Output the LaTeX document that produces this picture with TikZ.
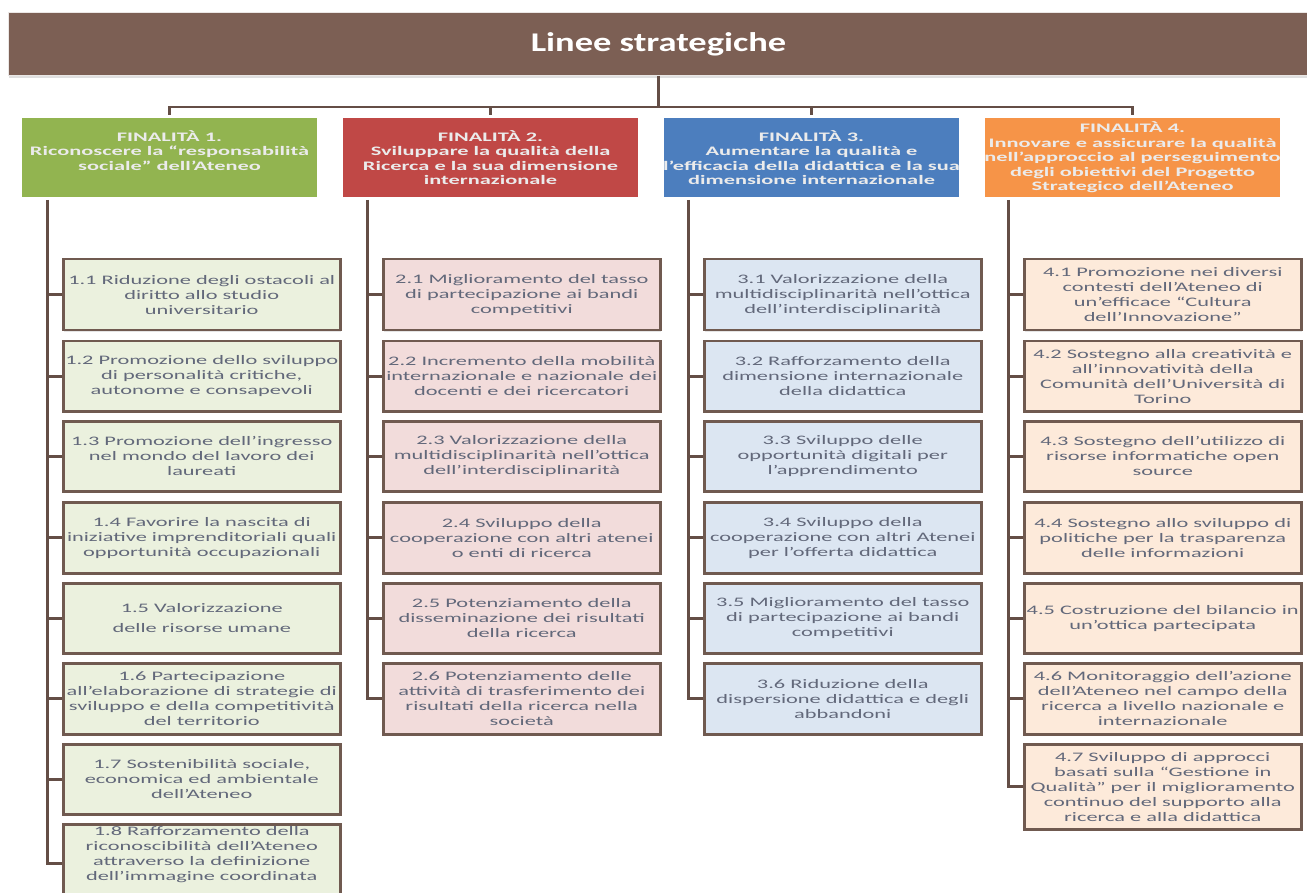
\documentclass[tikz,border=0pt]{standalone}
\usepackage{fontspec}
\setmainfont{Carlito}
\newfontfamily\subfont[FakeStretch=1.72]{Carlito}
\newfontfamily\titlefont[FakeStretch=1.72]{Carlito}
\newfontfamily\hdrfont[FakeStretch=1.35]{Carlito}
\usetikzlibrary{shadows,calc}
\definecolor{hdrc}{RGB}{124,95,84}
\definecolor{lnc}{RGB}{100,78,70}
\definecolor{bordc}{RGB}{112,90,80}
\definecolor{subtxt}{RGB}{98,104,122}
\definecolor{gF}{RGB}{146,180,80}
\definecolor{rF}{RGB}{192,72,70}
\definecolor{bF}{RGB}{76,126,190}
\definecolor{oF}{RGB}{246,148,72}
\definecolor{gL}{RGB}{235,241,222}
\definecolor{rL}{RGB}{242,220,219}
\definecolor{bL}{RGB}{220,230,242}
\definecolor{oL}{RGB}{253,234,218}
\tikzset{
  hdrbox/.style={fill=hdrc, draw=white!85!hdrc, line width=1pt, text=white,
    font=\hdrfont\bfseries\fontsize{27}{30}\selectfont, anchor=north west,
    minimum width=1300pt, minimum height=63pt, inner sep=0pt,
    drop shadow={opacity=0.25,shadow xshift=0pt,shadow yshift=-3pt}},
  catbox/.style={draw=white, line width=3pt, anchor=north west, minimum width=298pt,
    minimum height=82pt, inner xsep=0pt, inner ysep=2pt, align=center,
    text=white!92!black, font=\titlefont\bfseries\fontsize{13}{14.5}\selectfont,
    drop shadow={opacity=0.3,shadow xshift=1pt,shadow yshift=-2pt}},
  subbox/.style={draw=bordc, line width=2.5pt, anchor=north west, minimum width=277pt,
    inner xsep=0pt, inner ysep=2pt, align=center, text=subtxt,
    font=\subfont\fontsize{13}{15}\selectfont,
    drop shadow={opacity=0.2,shadow xshift=1pt,shadow yshift=-2pt}},
  conn/.style={draw=lnc, line width=3pt},
}
\newcommand\subnode[6]{\node[subbox, fill=#5, minimum height={#4pt-#3pt}] (#1) at (#2,-#3) {#6};}
\begin{document}
\begin{tikzpicture}[x=1pt,y=1pt]
\useasboundingbox (0,0) rectangle (1307,-893);
\clip (0,0) rectangle (1307,-893);
\fill[white] (0,0) rectangle (1307,-893);

% header
\node[hdrbox] (hdr) at (8,-12) {Linee strategiche};

% category boxes
\node[catbox, fill=gF] (f1) at (19,-115) {FINALITÀ 1.\\Riconoscere la “responsabilità\\sociale” dell’Ateneo\\\mbox{}};
\node[catbox, fill=rF] (f2) at (340,-115) {FINALITÀ 2.\\Sviluppare la qualità della\\Ricerca e la sua dimensione\\internazionale};
\node[catbox, fill=bF] (f3) at (661,-115) {FINALITÀ 3.\\Aumentare la qualità e\\l’efficacia della didattica e la sua\\dimensione internazionale};
\node[catbox, fill=oF] (f4) at (982,-115) {FINALITÀ 4.\\Innovare e assicurare la qualità\\nell’approccio al perseguimento\\degli obiettivi del Progetto\\Strategico dell’Ateneo};

% top connectors
\coordinate (bus) at (hdr.south |- 0,-107);
\draw[conn, line width=2.5pt] (hdr.south) -- (bus);
\draw[conn, line width=2.5pt] (f1.north) |- (bus) -| (f4.north);
\draw[conn, line width=2.5pt] (f2.north) -- (f2.north |- bus);
\draw[conn, line width=2.5pt] (f3.north) -- (f3.north |- bus);

% column 1
\subnode{s11}{62}{258}{329}{gL}{1.1 Riduzione degli ostacoli al\\diritto allo studio\\universitario}
\subnode{s12}{62}{340}{410}{gL}{1.2 Promozione dello sviluppo\\di personalità critiche,\\autonome e consapevoli}
\subnode{s13}{62}{420}{490}{gL}{1.3 Promozione dell’ingresso\\nel mondo del lavoro dei\\laureati}
\subnode{s14}{62}{501}{572}{gL}{1.4 Favorire la nascita di\\iniziative imprenditoriali quali\\opportunità occupazionali}
\subnode{s15}{62}{582}{652}{gL}{1.5 Valorizzazione\\[5pt]delle risorse umane}
\subnode{s16}{62}{662}{733}{gL}{1.6 Partecipazione\\all’elaborazione di strategie di\\sviluppo e della competitività\\del territorio}
\subnode{s17}{62}{743}{813}{gL}{1.7 Sostenibilità sociale,\\economica ed ambientale\\dell’Ateneo}
\subnode{s18}{62}{823}{898}{gL}{1.8 Rafforzamento della\\riconoscibilità dell’Ateneo\\attraverso la definizione\\dell’immagine coordinata\\[6pt]}

% column 2
\subnode{s21}{382}{258}{329}{rL}{2.1 Miglioramento del tasso\\di partecipazione ai bandi\\competitivi}
\subnode{s22}{382}{340}{410}{rL}{2.2 Incremento della mobilità\\internazionale e nazionale dei\\docenti e dei ricercatori}
\subnode{s23}{382}{420}{490}{rL}{2.3 Valorizzazione della\\multidisciplinarità nell’ottica\\dell’interdisciplinarità}
\subnode{s24}{382}{501}{572}{rL}{2.4 Sviluppo della\\cooperazione con altri atenei\\o enti di ricerca}
\subnode{s25}{382}{582}{652}{rL}{2.5 Potenziamento della\\disseminazione dei risultati\\della ricerca}
\subnode{s26}{382}{662}{733}{rL}{2.6 Potenziamento delle\\attività di trasferimento dei\\risultati della ricerca nella\\società}

% column 3
\subnode{s31}{703}{258}{329}{bL}{3.1 Valorizzazione della\\multidisciplinarità nell’ottica\\dell’interdisciplinarità}
\subnode{s32}{703}{340}{410}{bL}{3.2 Rafforzamento della\\dimensione internazionale\\della didattica}
\subnode{s33}{703}{420}{490}{bL}{3.3 Sviluppo delle\\opportunità digitali per\\l’apprendimento}
\subnode{s34}{703}{501}{572}{bL}{3.4 Sviluppo della\\cooperazione con altri Atenei\\per l’offerta didattica}
\subnode{s35}{703}{582}{652}{bL}{3.5 Miglioramento del tasso\\di partecipazione ai bandi\\competitivi}
\subnode{s36}{703}{662}{733}{bL}{3.6 Riduzione della\\dispersione didattica e degli\\abbandoni}

% column 4
\subnode{s41}{1023}{258}{329}{oL}{4.1 Promozione nei diversi\\contesti dell’Ateneo di\\un’efficace “Cultura\\dell’Innovazione”}
\subnode{s42}{1023}{340}{410}{oL}{4.2 Sostegno alla creatività e\\all’innovatività della\\Comunità dell’Università di\\Torino}
\subnode{s43}{1023}{420}{490}{oL}{4.3 Sostegno dell’utilizzo di\\risorse informatiche open\\source}
\subnode{s44}{1023}{501}{572}{oL}{4.4 Sostegno allo sviluppo di\\politiche per la trasparenza\\delle informazioni}
\subnode{s45}{1023}{582}{652}{oL}{4.5 Costruzione del bilancio in\\un’ottica partecipata}
\subnode{s46}{1023}{662}{733}{oL}{4.6 Monitoraggio dell’azione\\dell’Ateneo nel campo della\\ricerca a livello nazionale e\\internazionale}
\subnode{s47}{1023}{743}{828}{oL}{4.7 Sviluppo di approcci\\basati sulla “Gestione in\\Qualità” per il miglioramento\\continuo del supporto alla\\ricerca e alla didattica}

% trunks
\coordinate (t1) at ([xshift=-15pt]s11.west |- f1.south);
\coordinate (t2) at ([xshift=-15pt]s21.west |- f2.south);
\coordinate (t3) at ([xshift=-15pt]s31.west |- f3.south);
\coordinate (t4) at ([xshift=-15pt]s41.west |- f4.south);
\draw[conn] (t1) |- (s18.west);
\draw[conn] (t2) |- (s26.west);
\draw[conn] (t3) |- (s36.west);
\draw[conn] (t4) |- (s47.west);
\foreach \k in {1,...,7}{\draw[conn] (t1 |- s1\k.west) -- (s1\k.west);}
\foreach \k in {1,...,5}{\draw[conn] (t2 |- s2\k.west) -- (s2\k.west);}
\foreach \k in {1,...,5}{\draw[conn] (t3 |- s3\k.west) -- (s3\k.west);}
\foreach \k in {1,...,6}{\draw[conn] (t4 |- s4\k.west) -- (s4\k.west);}
\end{tikzpicture}
\end{document}
